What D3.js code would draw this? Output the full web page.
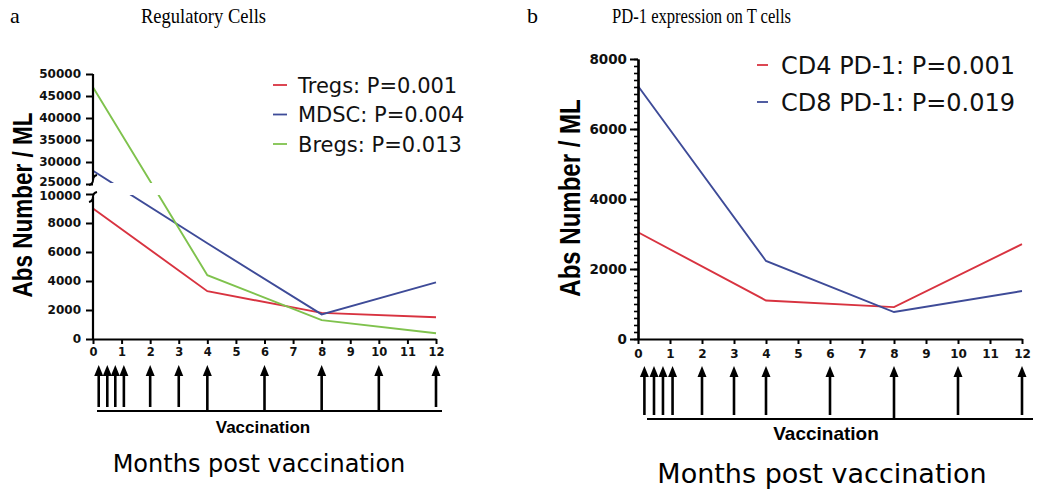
<!DOCTYPE html>
<html>
<head>
<meta charset="utf-8">
<script src="https://cdn.jsdelivr.net/npm/d3@7"></script>
<style>
  body { margin: 0; background: #fff; }
  svg { display: block; }
</style>
</head>
<body>
<svg id="chart" width="1050" height="496"></svg>
<script>
(function(){

    // DATA ///////////////////////////////////////////////////////////////

    var months = [0, 4, 8, 12],
        monthTicks = d3.range(0, 13),
        vaccMonths = [0.2, 0.5, 0.78, 1.08, 2, 3, 4, 6, 8, 10, 12];

    // panel a - regulatory cells
    var tregs = [9000, 3300, 1800, 1500],
        mdsc  = [28000, 6600, 1700, 3900],
        bregs = [47000, 4400, 1300, 400];

    // panel b - PD-1 on T cells
    var cd4 = [3050, 1100, 910, 2710],
        cd8 = [7230, 2230, 770, 1370];

    var lowTicksA  = [0, 2000, 4000, 6000, 8000, 10000],
        highTicksA = [25000, 30000, 35000, 40000, 45000, 50000],
        ticksB     = [0, 2000, 4000, 6000, 8000];

    var legendA = ["Tregs: P=0.001", "MDSC: P=0.004", "Bregs: P=0.013"],
        legendB = ["CD4 PD-1: P=0.001", "CD8 PD-1: P=0.019"];

    var red = "#d83340", blue = "#3e4b98", green = "#7fc24d";

    var svg = d3.select("#chart");
    var sans = "'Liberation Sans', Arial, sans-serif",
        dejavu = "'DejaVu Sans', sans-serif",
        serif = "'Liberation Serif', serif",
        fmt = d3.format("d");

    // titles (the original uses a narrow serif, so squeeze to width)
    svg.append("text").attr("x", 10).attr("y", 23).text("a")
        .style("font-family", serif).style("font-size", "22px");
    svg.append("text").attr("x", 141).attr("y", 23).text("Regulatory Cells")
        .attr("textLength", 125).attr("lengthAdjust", "spacingAndGlyphs")
        .style("font-family", serif).style("font-size", "22px");
    svg.append("text").attr("x", 527).attr("y", 23).text("b")
        .style("font-family", serif).style("font-size", "22px");
    svg.append("text").attr("x", 612).attr("y", 23).text("PD-1 expression on T cells")
        .attr("textLength", 179).attr("lengthAdjust", "spacingAndGlyphs")
        .style("font-family", serif).style("font-size", "22px");

    // shared bits: vaccination arrows + labels under each panel
    function vaccination(x, top, base, x0, x1, longOnes, fsV, fsM, yV, yM, cx) {
        var g = svg.append("g");
        vaccMonths.forEach(function(m){
            var bx = x(m),
                bottom = longOnes.indexOf(m) > -1 ? base : base - 4;
            g.append("line")
                .attr("x1", bx).attr("x2", bx)
                .attr("y1", top + 8).attr("y2", bottom)
                .attr("stroke", "#000").attr("stroke-width", 2.6);
            g.append("path")
                .attr("d", "M" + (bx - 4.5) + "," + (top + 11) + "L" + bx + "," + top + "L" + (bx + 4.5) + "," + (top + 11) + "Z")
                .attr("fill", "#000");
        });
        g.append("line")
            .attr("x1", x0).attr("x2", x1)
            .attr("y1", base).attr("y2", base)
            .attr("stroke", "#000").attr("stroke-width", 2.2);
        g.append("text").attr("x", cx).attr("y", yV)
            .attr("text-anchor", "middle").text("Vaccination")
            .style("font-family", sans).style("font-weight", "bold").style("font-size", fsV + "px");
        g.append("text").attr("x", cx - 4).attr("y", yM)
            .attr("text-anchor", "middle").text("Months post vaccination")
            .style("font-family", dejavu).style("font-size", fsM + "px");
    }

    function styleAxis(g, fs) {
        g.attr("font-family", dejavu).attr("font-weight", "bold").attr("font-size", fs);
        g.selectAll("line").attr("stroke", "#000").attr("stroke-width", 2);
        g.selectAll(".domain").attr("stroke", "#000").attr("stroke-width", 2.2);
        g.selectAll("text").attr("fill", "#111");
    }

    /////////////////////////////////////////////////////////////////////////
    // PANEL A //////////////////////////////////////////////////////////////
    /////////////////////////////////////////////////////////////////////////

    var xA = d3.scaleLinear().domain([0, 12]).range([93, 436]),
        yA = d3.scaleLinear().domain([0, 10000, 25000, 50000]).range([339, 194, 184, 74]);

    var defs = svg.append("defs");
    defs.append("clipPath").attr("id", "clipHigh")
        .append("rect").attr("x", 80).attr("y", 60).attr("width", 380).attr("height", 123);
    defs.append("clipPath").attr("id", "clipLow")
        .append("rect").attr("x", 80).attr("y", 195).attr("width", 380).attr("height", 160);

    var lineA = d3.line()
        .x(function(d, i){ return xA(months[i]); })
        .y(function(d){ return yA(d); });

    [[tregs, red], [mdsc, blue], [bregs, green]].forEach(function(s){
        ["clipHigh", "clipLow"].forEach(function(c){
            svg.append("path")
                .attr("d", lineA(s[0]))
                .attr("clip-path", "url(#" + c + ")")
                .attr("fill", "none")
                .attr("stroke", s[1])
                .attr("stroke-width", 1.9);
        });
    });

    // broken y axis
    var gLow = svg.append("g").attr("transform", "translate(93,0)")
        .call(d3.axisLeft(yA).tickValues(lowTicksA).tickFormat(fmt).tickSize(7).tickPadding(5).tickSizeOuter(0));
    gLow.select(".domain").remove();
    var gHigh = svg.append("g").attr("transform", "translate(93,0)")
        .call(d3.axisLeft(yA).tickValues(highTicksA).tickFormat(fmt).tickSize(7).tickPadding(5).tickSizeOuter(0));
    gHigh.select(".domain").remove();
    styleAxis(gLow, 12);
    styleAxis(gHigh, 12);
    // the two labels either side of the break sit tight, nudge apart
    gHigh.selectAll(".tick text").filter(function(d){ return d === 25000; }).attr("y", -2);
    gLow.selectAll(".tick text").filter(function(d){ return d === 10000; }).attr("y", 1.5);

    svg.append("line").attr("x1", 93).attr("x2", 93)
        .attr("y1", yA(0) + 1).attr("y2", 197)
        .attr("stroke", "#000").attr("stroke-width", 2.2);
    svg.append("line").attr("x1", 93).attr("x2", 93)
        .attr("y1", yA(50000)).attr("y2", 180)
        .attr("stroke", "#000").attr("stroke-width", 2.2);
    // little break squiggles
    [180, 197].forEach(function(y){
        svg.append("path")
            .attr("d", "M93," + y + " Q93," + (y + 4) + " 89," + (y + 5) + " M93," + y + " Q93," + (y - 4) + " 97," + (y - 5))
            .attr("fill", "none").attr("stroke", "#000").attr("stroke-width", 2);
    });

    var gxA = svg.append("g").attr("transform", "translate(0,339)")
        .call(d3.axisBottom(xA).tickValues(monthTicks).tickSize(5).tickPadding(4).tickSizeOuter(0));
    styleAxis(gxA, 11.5);

    svg.append("text")
        .attr("transform", "translate(32,205) rotate(-90) scale(1,1.25)")
        .attr("text-anchor", "middle")
        .text("Abs Number / ML")
        .style("font-family", sans).style("font-weight", "bold").style("font-size", "22.5px");

    // legend
    legendA.forEach(function(t, i){
        var y = 85 + i * 29.5,
            c = [red, blue, green][i];
        svg.append("line").attr("x1", 273).attr("x2", 287).attr("y1", y).attr("y2", y)
            .attr("stroke", c).attr("stroke-width", 1.8);
        svg.append("text").attr("x", 298).attr("y", y).attr("dy", "0.36em").text(t)
            .style("font-family", dejavu).style("font-size", "21px").style("fill", "#111");
    });

    vaccination(xA, 365, 411, 97, 442, [4, 6, 8, 10], 17, 24, 433, 472, 263);

    /////////////////////////////////////////////////////////////////////////
    // PANEL B //////////////////////////////////////////////////////////////
    /////////////////////////////////////////////////////////////////////////

    var xB = d3.scaleLinear().domain([0, 12]).range([638, 1022]),
        yB = d3.scaleLinear().domain([0, 8000]).range([339, 59]);

    var lineB = d3.line()
        .x(function(d, i){ return xB(months[i]); })
        .y(function(d){ return yB(d); });

    [[cd4, red], [cd8, blue]].forEach(function(s){
        svg.append("path")
            .attr("d", lineB(s[0]))
            .attr("fill", "none")
            .attr("stroke", s[1])
            .attr("stroke-width", 1.9);
    });

    var gMinor = svg.append("g").attr("transform", "translate(638,0)")
        .call(d3.axisLeft(yB).tickValues(d3.range(0, 8001, 200)).tickSize(4).tickFormat("").tickSizeOuter(0));
    styleAxis(gMinor, 12);
    gMinor.selectAll(".tick line").attr("stroke-width", 1.6);
    var gyB = svg.append("g").attr("transform", "translate(638,0)")
        .call(d3.axisLeft(yB).tickValues(ticksB).tickFormat(fmt).tickSize(8).tickPadding(3).tickSizeOuter(0));
    styleAxis(gyB, 13.5);

    var gxB = svg.append("g").attr("transform", "translate(0,339)")
        .call(d3.axisBottom(xB).tickValues(monthTicks).tickSize(5).tickPadding(5).tickSizeOuter(0));
    styleAxis(gxB, 12);

    svg.append("text")
        .attr("transform", "translate(580,198) rotate(-90) scale(1,1.25)")
        .attr("text-anchor", "middle")
        .text("Abs Number / ML")
        .style("font-family", sans).style("font-weight", "bold").style("font-size", "24px");

    legendB.forEach(function(t, i){
        var y = 65 + i * 37,
            c = [red, blue][i];
        svg.append("line").attr("x1", 757).attr("x2", 768).attr("y1", y).attr("y2", y)
            .attr("stroke", c).attr("stroke-width", 1.8);
        svg.append("text").attr("x", 781).attr("y", y).attr("dy", "0.36em").text(t)
            .style("font-family", dejavu).style("font-size", "24px").style("fill", "#111");
    });

    vaccination(xB, 366, 419, 647, 1033, [8], 19, 27, 440, 483, 826);

})();
</script>
</body>
</html>
